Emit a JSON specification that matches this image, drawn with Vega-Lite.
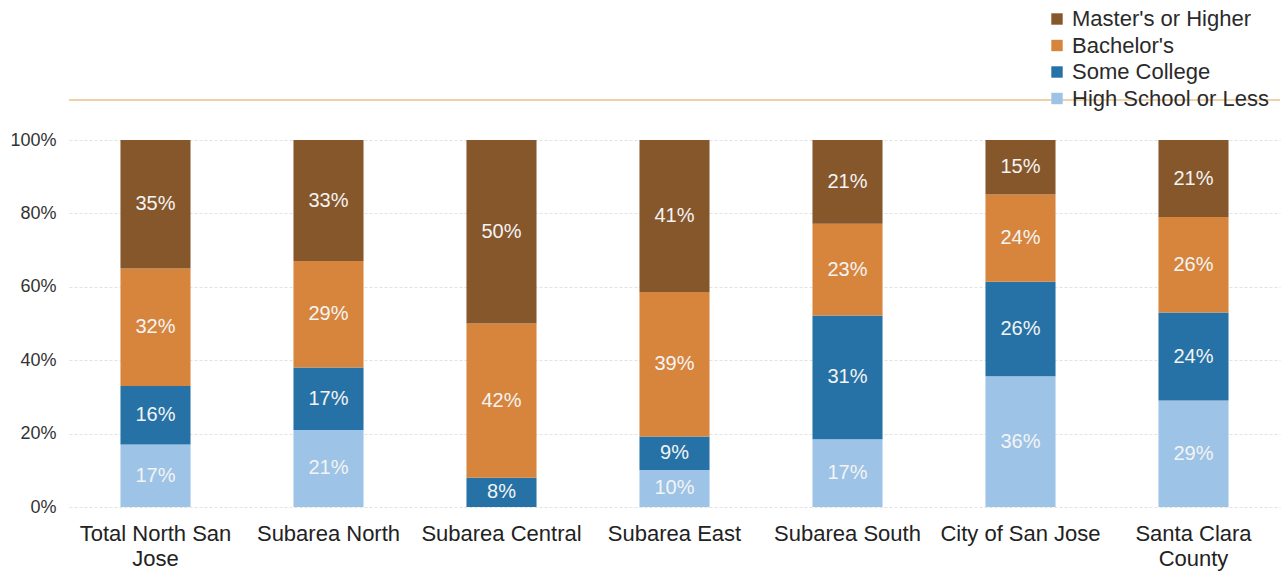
{
  "$schema": "https://vega.github.io/schema/vega-lite/v6.json",
  "width": 1211,
  "height": 367,
  "autosize": "none",
  "padding": {"left": 69, "top": 140, "right": 5, "bottom": 68},
  "background": "white",
  "config": {
    "font": "Liberation Sans",
    "view": {"stroke": null}
  },
  "data": {
    "values": [
      {"cat": "Total North San Jose", "level": "High School or Less", "o": 1, "v": 17},
      {"cat": "Total North San Jose", "level": "Some College", "o": 2, "v": 16},
      {"cat": "Total North San Jose", "level": "Bachelor's", "o": 3, "v": 32},
      {"cat": "Total North San Jose", "level": "Master's or Higher", "o": 4, "v": 35},
      {"cat": "Subarea North", "level": "High School or Less", "o": 1, "v": 21},
      {"cat": "Subarea North", "level": "Some College", "o": 2, "v": 17},
      {"cat": "Subarea North", "level": "Bachelor's", "o": 3, "v": 29},
      {"cat": "Subarea North", "level": "Master's or Higher", "o": 4, "v": 33},
      {"cat": "Subarea Central", "level": "High School or Less", "o": 1, "v": 0},
      {"cat": "Subarea Central", "level": "Some College", "o": 2, "v": 8},
      {"cat": "Subarea Central", "level": "Bachelor's", "o": 3, "v": 42},
      {"cat": "Subarea Central", "level": "Master's or Higher", "o": 4, "v": 50},
      {"cat": "Subarea East", "level": "High School or Less", "o": 1, "v": 10},
      {"cat": "Subarea East", "level": "Some College", "o": 2, "v": 9},
      {"cat": "Subarea East", "level": "Bachelor's", "o": 3, "v": 39},
      {"cat": "Subarea East", "level": "Master's or Higher", "o": 4, "v": 41},
      {"cat": "Subarea South", "level": "High School or Less", "o": 1, "v": 17},
      {"cat": "Subarea South", "level": "Some College", "o": 2, "v": 31},
      {"cat": "Subarea South", "level": "Bachelor's", "o": 3, "v": 23},
      {"cat": "Subarea South", "level": "Master's or Higher", "o": 4, "v": 21},
      {"cat": "City of San Jose", "level": "High School or Less", "o": 1, "v": 36},
      {"cat": "City of San Jose", "level": "Some College", "o": 2, "v": 26},
      {"cat": "City of San Jose", "level": "Bachelor's", "o": 3, "v": 24},
      {"cat": "City of San Jose", "level": "Master's or Higher", "o": 4, "v": 15},
      {"cat": "Santa Clara County", "level": "High School or Less", "o": 1, "v": 29},
      {"cat": "Santa Clara County", "level": "Some College", "o": 2, "v": 24},
      {"cat": "Santa Clara County", "level": "Bachelor's", "o": 3, "v": 26},
      {"cat": "Santa Clara County", "level": "Master's or Higher", "o": 4, "v": 21}
    ]
  },
  "transform": [
    {"joinaggregate": [{"op": "sum", "field": "v", "as": "total"}], "groupby": ["cat"]},
    {"window": [{"op": "sum", "field": "v", "as": "cum"}], "groupby": ["cat"], "sort": [{"field": "o", "order": "ascending"}], "frame": [null, 0]},
    {"calculate": "(datum.cum - datum.v) / datum.total", "as": "lo"},
    {"calculate": "datum.cum / datum.total", "as": "hi"},
    {"calculate": "(datum.lo + datum.hi) / 2", "as": "mid"},
    {"calculate": "datum.v + '%'", "as": "label"}
  ],
  "encoding": {
    "x": {
      "field": "cat",
      "type": "nominal",
      "sort": ["Total North San Jose", "Subarea North", "Subarea Central", "Subarea East", "Subarea South", "City of San Jose", "Santa Clara County"],
      "scale": {"paddingInner": 0.595, "paddingOuter": 0.2975},
      "axis": {
        "title": null,
        "labelAngle": 0,
        "labelFontSize": 22,
        "labelColor": "#222222",
        "labelPadding": 16,
        "labelLimit": 300,
        "labelLineHeight": 25,
        "labelOverlap": false,
        "ticks": false,
        "domain": false,
        "labelExpr": "datum.label == 'Total North San Jose' ? ['Total North San', 'Jose'] : datum.label == 'Santa Clara County' ? ['Santa Clara', 'County'] : datum.label"
      }
    }
  },
  "layer": [
    {
      "mark": {"type": "rule", "color": "#f0d0a8", "strokeWidth": 1.2, "clip": false},
      "encoding": {"x": null, "y": {"datum": 1.109, "type": "quantitative"}}
    },
    {
      "mark": {"type": "bar"},
      "encoding": {
        "y": {
          "field": "hi",
          "type": "quantitative",
          "scale": {"domain": [0, 1]},
          "axis": {
            "title": null,
            "format": ".0%",
            "values": [0, 0.1, 0.2, 0.3, 0.4, 0.5, 0.6, 0.7, 0.8, 0.9, 1],
            "labelOverlap": false,
            "labelFontSize": 18,
            "labelColor": "#333333",
            "labelPadding": 13,
            "ticks": false,
            "domain": false,
            "grid": true,
            "gridColor": "#e2e2e2",
            "gridDash": [3, 2],
            "gridWidth": 1
          }
        },
        "y2": {"field": "lo"},
        "color": {
          "field": "level",
          "type": "nominal",
          "scale": {
            "domain": ["Master's or Higher", "Bachelor's", "Some College", "High School or Less"],
            "range": ["#87572c", "#d7853d", "#2672a6", "#9dc3e6"]
          },
          "legend": {
            "title": null,
            "orient": "none",
            "legendX": 977,
            "legendY": -132,
            "symbolType": "square",
            "symbolSize": 130,
            "symbolStrokeWidth": 0,
            "labelFontSize": 22,
            "labelColor": "#2a2a2a",
            "labelLimit": 400,
            "labelOffset": 4,
            "rowPadding": 4.5
          }
        }
      }
    },
    {
      "transform": [{"filter": "datum.v > 0"}],
      "mark": {"type": "text", "fontSize": 20, "color": "#f4f4f4", "baseline": "middle"},
      "encoding": {
        "y": {"field": "mid", "type": "quantitative"},
        "text": {"field": "label"}
      }
    }
  ]
}
